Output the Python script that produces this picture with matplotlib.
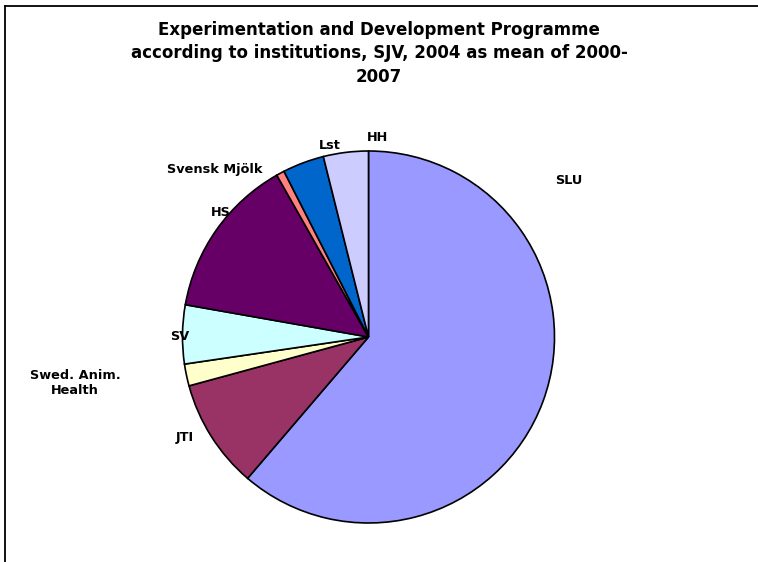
import matplotlib as mpl
mpl.use('Agg')
import matplotlib.pyplot as plt
from matplotlib.lines import Line2D

# Shares (%), clockwise from 12 o'clock
names = ['SLU', 'JTI', 'Swed. Anim.\nHealth', 'SV', 'HS', 'Svensk Mjölk', 'Lst', 'HH']
shares = [61.2, 9.5, 1.9, 5.1, 14.0, 0.7, 3.6, 3.9]
colours = ['#9999FF', '#993366', '#FFFFCC', '#CCFFFF', '#660066', '#FF8080', '#0066CC', '#CCCCFF']

# label spots, in pie radius units (Excel puts them where it likes)
label_xy = [(1.078, 0.839), (-0.987, -0.538), (-1.578, -0.247), (-1.013, 0.0),
            (-0.793, 0.672), (-0.825, 0.898), (-0.207, 1.032), (0.051, 1.075)]

W, H = 758, 562
fig = plt.figure(figsize=(W/100, H/100), dpi=100)

# chart frame (only top and left edges show in the crop)
fig.add_artist(Line2D([5/W, 1], [1-6/H, 1-6/H], color='black', lw=1.3))
fig.add_artist(Line2D([5/W, 5/W], [0, 1-6/H], color='black', lw=1.3))

# pie: centre (368.5, 337), radius 186 px
R = 186
cx, cy = 368.5, 337
ax = fig.add_axes([(cx-R)/W, (H-cy-R)/H, 2*R/W, 2*R/H])
ax.pie(shares, colors=colours, startangle=90, counterclock=False,
       wedgeprops=dict(edgecolor='black', linewidth=1.2))
ax.set_xlim(-1, 1)
ax.set_ylim(-1, 1)
ax.set_aspect('equal')
ax.axis('off')

for name, (lx, ly) in zip(names, label_xy):
    ax.text(lx, ly, name, ha='center', va='center', fontsize=9.3,
            fontweight='bold', family='DejaVu Sans', clip_on=False)

fig.text(379/W, 1-53.5/H,
         'Experimentation and Development Programme\n'
         'according to institutions, SJV, 2004 as mean of 2000-\n2007',
         ha='center', va='center', fontsize=12, fontweight='bold',
         linespacing=1.42, family='DejaVu Sans')

fig.savefig('out.png', dpi=100)
